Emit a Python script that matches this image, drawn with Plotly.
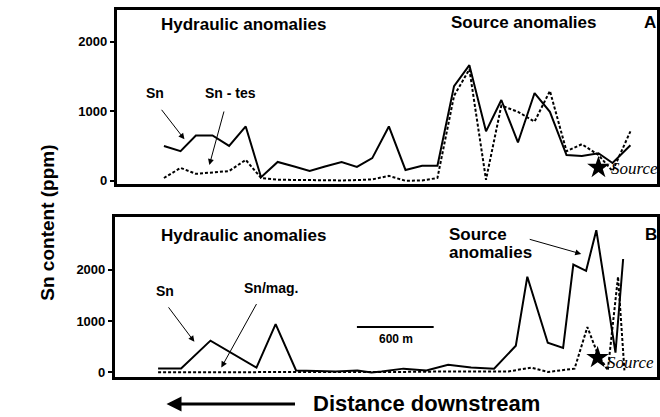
import plotly.graph_objects as go

W, H = 660, 417

# ---------------- data ----------------
# Panel A (distance in m, Sn in ppm)
a_dist = [370, 500, 620, 750, 880, 1010, 1130, 1260, 1390, 1510, 1630, 1760, 1880, 2000,
          2130, 2260, 2390, 2510, 2640, 2760, 2890, 3010, 3140, 3270, 3390, 3520, 3640,
          3770, 3880, 4020]
a_sn = [500, 425, 650, 650, 500, 780, 50, 270, 205, 140, 205, 270, 200, 325,
        780, 155, 215, 215, 1360, 1660, 710, 1160, 550, 1260, 990, 370, 355,
        395, 255, 510]
a_sn_tes = [40, 185, 100, 115, 140, 300, 40, 15, 10, 10, 5, 5, 10, 20,
            70, 0, 5, 40, 1220, 1600, 15, 1080, 990, 850, 1290, 425, 525,
            370, 140, 710]
a_source = [3770, 190]

# Panel B
b_dist_sn = [340, 520, 750, 1110, 1260, 1420, 1580, 1730, 1900, 2010, 2090, 2260, 2440,
             2610, 2790, 2970, 3140, 3230, 3390, 3510, 3590, 3690, 3770, 3920, 3980]
b_sn = [80, 80, 620, 95, 940, 40, 30, 20, 40, 0, 20, 75, 40,
        150, 95, 75, 520, 1865, 580, 480, 2100, 1980, 2770, 385, 2210]
b_dist_mag = [340, 660, 1050, 1440, 1830, 2220, 2610, 3080, 3260, 3390, 3600, 3700,
              3780, 3860, 3940, 3990]
b_sn_mag = [5, 5, 5, 5, 5, 10, 20, 20, 95, 10, 75, 885, 365, 40, 1865, 40]
b_source = [3780, 290]

y_ticks = [0, 1000, 2000]

# ---------------- figure ----------------
FONT = "Liberation Sans, Arial, sans-serif"
SERIF = "Liberation Serif, Times New Roman, serif"

def P(px, py):
    return px / W, 1 - py / H

fig = go.Figure()

solid = dict(color="black", width=2)
dashed = dict(color="black", width=2, dash="3px,2px")

fig.add_trace(go.Scatter(x=a_dist, y=a_sn, mode="lines", line=solid, xaxis="x", yaxis="y"))
fig.add_trace(go.Scatter(x=a_dist, y=a_sn_tes, mode="lines", line=dashed, xaxis="x", yaxis="y"))
fig.add_trace(go.Scatter(x=[a_source[0]], y=[a_source[1]], mode="markers",
                         marker=dict(symbol="star", size=17, color="black"), xaxis="x", yaxis="y"))

fig.add_trace(go.Scatter(x=b_dist_sn, y=b_sn, mode="lines", line=solid, xaxis="x2", yaxis="y2"))
fig.add_trace(go.Scatter(x=b_dist_mag, y=b_sn_mag, mode="lines", line=dashed, xaxis="x2", yaxis="y2"))
fig.add_trace(go.Scatter(x=[b_source[0]], y=[b_source[1]], mode="markers",
                         marker=dict(symbol="star", size=17, color="black"), xaxis="x2", yaxis="y2"))

axis_common = dict(showline=True, linecolor="black", linewidth=2.5, mirror=True,
                   showgrid=False, zeroline=False)
tickfont = dict(family=FONT, size=13, color="black", weight="bold")

fig.update_layout(
    width=W, height=H, margin=dict(l=0, r=0, t=0, b=0),
    paper_bgcolor="white", plot_bgcolor="white", showlegend=False,
    xaxis=dict(domain=[117 / W, 659 / W], range=[0, 4228], showticklabels=False,
               ticks="", anchor="y", **axis_common),
    yaxis=dict(domain=[1 - 186 / H, 1 - 10 / H], range=[-43, 2454], tickvals=y_ticks,
               ticks="outside", ticklen=4, tickwidth=2, tickcolor="black",
               tickfont=tickfont, anchor="x", **axis_common),
    xaxis2=dict(domain=[115 / W, 659 / W], range=[0, 4245], showticklabels=False,
                ticks="", anchor="y2", **axis_common),
    yaxis2=dict(domain=[1 - 382 / H, 1 - 220 / H], range=[-96, 3020], tickvals=y_ticks,
                ticks="outside", ticklen=4, tickwidth=2, tickcolor="black",
                tickfont=tickfont, anchor="x2", **axis_common),
)

ann = []

def text(px, py, s, size=17, xanchor="center", family=FONT, weight="bold", style="normal"):
    x, y = P(px, py)
    ann.append(dict(x=x, y=y, xref="paper", yref="paper", text=s, showarrow=False,
                    xanchor=xanchor, yanchor="middle",
                    font=dict(family=family, size=size, color="black", weight=weight, style=style)))

def arrow(tx, ty, hx, hy, head=2, size=1.2, width=1):
    x, y = P(hx, hy)
    ann.append(dict(x=x, y=y, xref="paper", yref="paper", text="", showarrow=True,
                    ax=tx - hx, ay=ty - hy, axref="pixel", ayref="pixel",
                    arrowhead=head, arrowsize=size, arrowwidth=width, arrowcolor="black"))

# Panel A texts
text(244, 25, "Hydraulic anomalies")
text(526, 23, "Source anomalies")
text(652, 23, "A")
text(155, 94, "Sn", size=14)
text(231, 94, "Sn - tes", size=14)
arrow(161, 110, 185, 141)
arrow(225, 112, 210, 167)
text(611, 171, "Source", size=17, xanchor="left", family=SERIF, weight="normal", style="italic")

# Panel B texts
text(244, 238, "Hydraulic anomalies")
text(166, 295, "Sn", size=14)
text(272, 292, "Sn/mag.", size=14)
arrow(168, 310, 195, 346)
arrow(258, 307, 222, 372)
text(448, 237, "Source", xanchor="left")
text(448, 256, "anomalies", xanchor="left")
arrow(530, 242, 583, 257)
text(653, 237, "B")
text(397, 343, "600 m", size=12)
text(607, 367, "Source", size=17, xanchor="left", family=SERIF, weight="normal", style="italic")

# Axis titles
x, y = P(35, 225)
ann.append(dict(x=x, y=y, xref="paper", yref="paper", text="Sn content (ppm)", showarrow=False,
                textangle=-90, font=dict(family=FONT, size=19, color="black", weight="bold")))
text(428, 408, "Distance downstream", size=22, weight="bold")
arrow(297, 409, 167, 409, head=2, size=1.0, width=3)

fig.update_layout(annotations=ann)

# scale bar
sx0, _ = P(358, 331)
sx1, sy = P(435, 331)
fig.add_shape(type="line", xref="paper", yref="paper", x0=sx0, x1=sx1, y0=sy, y1=sy,
              line=dict(color="black", width=2))

fig.write_html("out.html", config={"displayModeBar": False},
               post_script="document.body.style.margin='0';document.body.style.overflow='hidden';")
